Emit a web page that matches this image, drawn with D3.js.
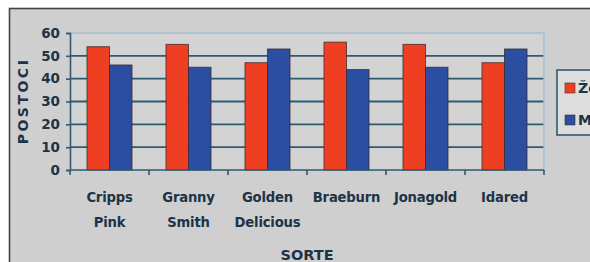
<!DOCTYPE html>
<html><head><meta charset="utf-8">
<script src="https://cdn.jsdelivr.net/npm/d3@7"></script>
<style>body{margin:0;background:#fff}svg{display:block}</style>
</head><body><svg id="c" width="590" height="262"></svg>
<script>
const categories = [["Cripps","Pink"],["Granny","Smith"],["Golden","Delicious"],["Braeburn"],["Jonagold"],["Idared"]];
const seriesNames = ["Žene","Muškarci"];
const zene = [54,55,47,56,55,47];
const muskarci = [46,45,53,44,45,53];
const yTicks = [0,10,20,30,40,50,60];

const colors = ["#ee3f22","#2b4ea0"];
const txt = "#1d3347";
const font = "'DejaVu Sans', Verdana, sans-serif";
const svg = d3.select("#c");

svg.append("rect").attr("x",9.5).attr("y",8.5).attr("width",700).attr("height",400)
  .attr("fill","#cfcfcf").attr("stroke","#454545").attr("stroke-width",1.6);

const L=70,R=544,T=33,B=170;
const keys = categories.map(d=>d.join(" "));
const x = d3.scaleBand().domain(keys).range([L,R]).paddingInner(0.43).paddingOuter(0.215);
const x1 = d3.scaleBand().domain([0,1]).range([0,x.bandwidth()]);
const y = d3.scaleLinear().domain([0,60]).range([B,T]);

svg.append("rect").attr("x",L).attr("y",T).attr("width",R-L).attr("height",B-T).attr("fill","#d3d3d3");
svg.append("g").selectAll("line").data(yTicks.filter(v=>v>0&&v<60)).join("line")
  .attr("x1",L).attr("x2",R).attr("y1",d=>y(d)).attr("y2",d=>y(d))
  .attr("stroke","#2e5a72").attr("stroke-width",1.8);
svg.append("path").attr("d",`M${L},${T}H${R}V${B}`).attr("fill","none").attr("stroke","#a6bfd0").attr("stroke-width",1.5);

const data = keys.map((k,i)=>({k, v:[zene[i],muskarci[i]]}));
const g = svg.append("g");
data.forEach(d=>{
  d.v.forEach((v,j)=>{
    g.append("rect").attr("x",x(d.k)+x1(j)).attr("y",y(v)).attr("width",x1.bandwidth()).attr("height",y(0)-y(v))
      .attr("fill",colors[j]).attr("stroke","#3a2a2a").attr("stroke-width",1).attr("stroke-opacity",0.75);
  });
});

const ya = svg.append("g").attr("transform",`translate(${L},0)`)
  .call(d3.axisLeft(y).tickValues(yTicks).tickSize(4).tickPadding(6));
ya.select(".domain").attr("stroke","#2e5a72").attr("stroke-width",1.6);
ya.selectAll(".tick line").attr("stroke","#2e5a72").attr("stroke-width",1.6);
ya.selectAll("text").attr("fill",txt).attr("font-family",font).attr("font-weight","bold").attr("font-size",13.5);

const bounds = d3.range(keys.length+1).map(i=>L+i*(R-L)/keys.length);
svg.append("line").attr("x1",L).attr("x2",R).attr("y1",B).attr("y2",B).attr("stroke","#2e5a72").attr("stroke-width",1.6);
svg.append("g").selectAll("line").data(bounds).join("line")
  .attr("x1",d=>d).attr("x2",d=>d).attr("y1",B).attr("y2",B+5).attr("stroke","#2e5a72").attr("stroke-width",1.6);
categories.forEach((c,i)=>{
  const cx = x(keys[i])+x.bandwidth()/2;
  c.forEach((line,li)=>{
    svg.append("text").attr("x",cx).attr("y",202+li*25).attr("text-anchor","middle")
      .attr("fill",txt).attr("font-family",font).attr("font-weight","bold").attr("font-size",13.2)
      .attr("letter-spacing",-0.2).text(line);
  });
});

svg.append("text").attr("x",(L+R)/2).attr("y",260).attr("text-anchor","middle")
  .attr("fill",txt).attr("font-family",font).attr("font-weight","bold").attr("font-size",14.5).text("SORTE");
svg.append("text").attr("transform",`translate(28,101) rotate(-90)`).attr("text-anchor","middle")
  .attr("fill",txt).attr("font-family",font).attr("font-weight","bold").attr("font-size",14).attr("letter-spacing",2.5).text("POSTOCI");

svg.append("rect").attr("x",557).attr("y",70).attr("width",90).attr("height",65).attr("fill","#dddddd").attr("stroke","#2e5a72").attr("stroke-width",1.6);
seriesNames.forEach((n,i)=>{
  svg.append("rect").attr("x",565).attr("y",83+i*32).attr("width",10).attr("height",10).attr("fill",colors[i]).attr("stroke","#333").attr("stroke-width",0.6);
  svg.append("text").attr("x",578).attr("y",93+i*32).attr("fill",txt).attr("font-family",font).attr("font-weight","bold").attr("font-size",14).text(n);
});
</script></body></html>
